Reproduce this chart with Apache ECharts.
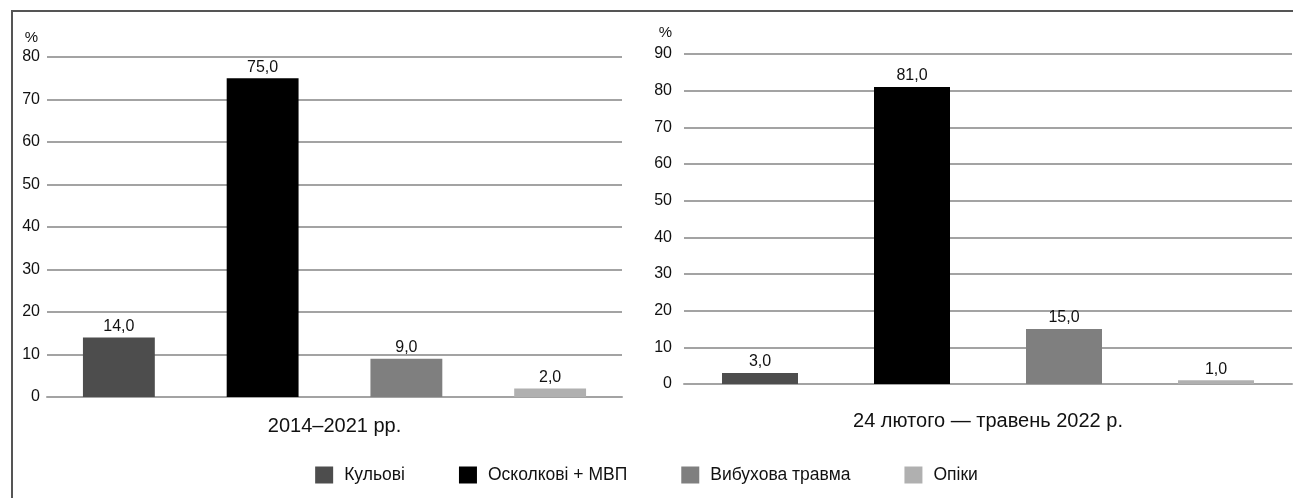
<!DOCTYPE html>
<html>
<head>
<meta charset="utf-8">
<script src="https://cdn.jsdelivr.net/npm/echarts@6/dist/echarts.min.js"></script>
<style>
  html, body { margin: 0; padding: 0; background: #ffffff; }
  #chart { width: 1293px; height: 498px; }
</style>
</head>
<body>
<div id="chart"></div>
<script>
// Wound types (shared legend) and their fill colours
const woundTypes = ['Кульові', 'Осколкові + МВП', 'Вибухова травма', 'Опіки'];
const woundColors = ['#4d4d4d', '#000000', '#7f7f7f', '#b0b0b0'];

// Period titles under each panel
const periods = ['2014–2021 рр.', '24 лютого — травень 2022 р.'];

// Shares of wounds, %
const values2014_2021 = [14.0, 75.0, 9.0, 2.0];
const values2022 = [3.0, 81.0, 15.0, 1.0];

// Y-axis ranges for the two panels
const yMax = [80, 90];
const yStep = 10;

const FONT = 'Liberation Sans, Arial, sans-serif';
const GRID_COLOR = '#a3a3a3';

const fmt = v => v.toFixed(1).replace('.', ',');

function panelSeries(values, axisIndex) {
  return woundTypes.map((name, i) => ({
    name: name,
    type: 'bar',
    xAxisIndex: axisIndex,
    yAxisIndex: axisIndex,
    barWidth: '50%',
    barGap: '-100%',
    itemStyle: { color: woundColors[i] },
    label: {
      show: true,
      position: 'top',
      distance: 3,
      color: '#111',
      fontFamily: FONT,
      fontSize: 16,
      formatter: p => fmt(p.value)
    },
    data: woundTypes.map((_, j) => (j === i ? values[j] : '-'))
  }));
}

function xAxisFor(idx, gap) {
  return {
    type: 'category',
    gridIndex: idx,
    data: woundTypes,
    axisTick: { show: false },
    axisLabel: { show: false },
    axisLine: { lineStyle: { color: GRID_COLOR, width: 2 } },
    name: periods[idx],
    nameLocation: 'middle',
    nameGap: gap,
    nameTextStyle: { color: '#111', fontFamily: FONT, fontSize: 20 }
  };
}

function yAxisFor(idx, margin, nameGap, namePad) {
  return {
    type: 'value',
    gridIndex: idx,
    min: 0,
    max: yMax[idx],
    interval: yStep,
    name: '%',
    nameLocation: 'end',
    nameGap: nameGap,
    nameTextStyle: { color: '#111', fontFamily: FONT, fontSize: 15, align: 'right', padding: [0, namePad, 0, 0] },
    axisLine: { show: false },
    axisTick: { show: false },
    axisLabel: { color: '#111', fontFamily: FONT, fontSize: 16, margin: margin },
    splitLine: { lineStyle: { color: GRID_COLOR, width: 2 } }
  };
}

const chart = echarts.init(document.getElementById('chart'), null, { renderer: 'canvas' });

chart.setOption({
  animation: false,
  backgroundColor: '#ffffff',
  graphic: [{
    type: 'polyline',
    shape: { points: [[12, 498], [12, 11], [1293, 11]] },
    style: { stroke: '#555555', lineWidth: 2, fill: null }
  }],
  legend: {
    data: woundTypes,
    left: 'center',
    top: 461,
    icon: 'rect',
    itemWidth: 18,
    itemHeight: 17,
    itemGap: 54,
    textStyle: { color: '#111', fontFamily: FONT, fontSize: 17.5, padding: [0, 0, 0, 6] }
  },
  grid: [
    { left: 47, width: 575, top: 57, height: 340, containLabel: false },
    { left: 684, width: 608, top: 54, height: 330, containLabel: false }
  ],
  xAxis: [xAxisFor(0, 19), xAxisFor(1, 27)],
  yAxis: [yAxisFor(0, 7, 12, 9), yAxisFor(1, 12, 14, 12)],
  series: panelSeries(values2014_2021, 0).concat(panelSeries(values2022, 1))
});
</script>
</body>
</html>
